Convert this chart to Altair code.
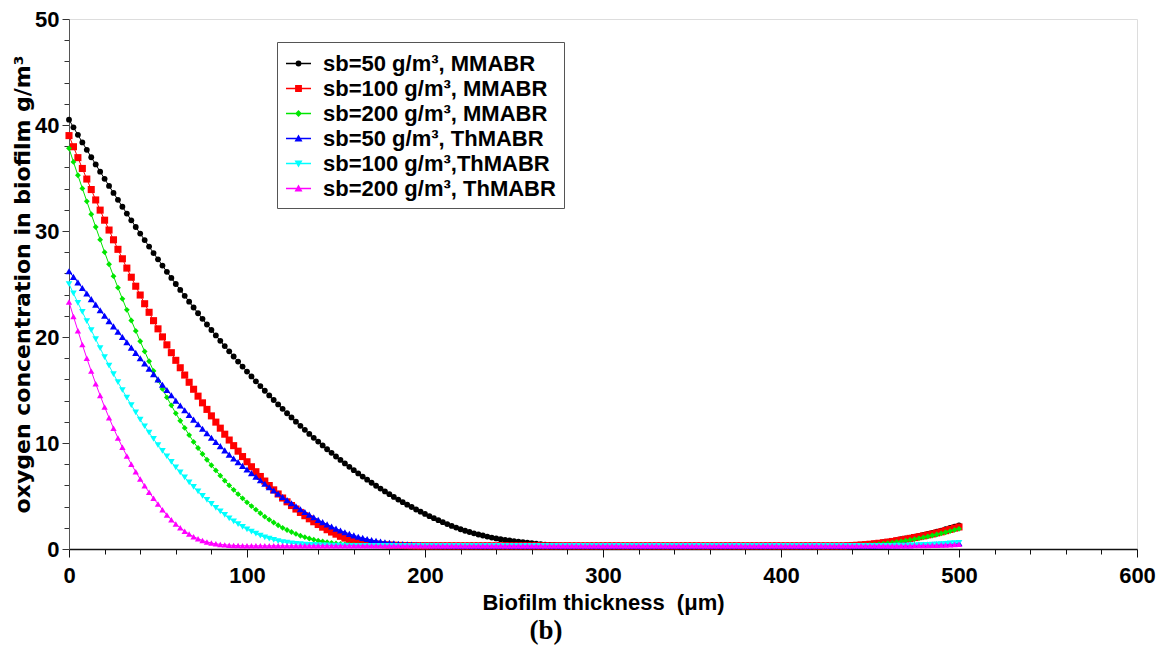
import altair as alt
import pandas as pd

# ---------------- data ----------------
series_names = [
    "sb=50 g/m³, MMABR",
    "sb=100 g/m³, MMABR",
    "sb=200 g/m³, MMABR",
    "sb=50 g/m³, ThMABR",
    "sb=100 g/m³,ThMABR",
    "sb=200 g/m³, ThMABR",
]
series_colors = ["#000000", "#ff0000", "#00e600", "#0000ff", "#00ffff", "#ff00ff"]
series_shapes = ["circle", "square", "diamond", "triangle-up", "triangle-down", "triangle-up"]
series_sizes = [34, 50, 34, 50, 44, 40]
# legend glyphs: a short line with the series marker in its middle (unit square -1..1)
legend_glyphs = [
    "M-1,0L1,0M-0.18,0A0.18,0.18 0 1,0 0.18,0A0.18,0.18 0 1,0 -0.18,0Z",
    "M-1,0L1,0M-0.22,-0.22L0.22,-0.22L0.22,0.22L-0.22,0.22Z",
    "M-1,0L1,0M0,-0.2L0.2,0L0,0.2L-0.2,0Z",
    "M-1,0L1,0M0,-0.22L0.23,0.18L-0.23,0.18Z",
    "M-1,0L1,0M0,0.22L0.23,-0.18L-0.23,-0.18Z",
    "M-1,0L1,0M0,-0.22L0.23,0.18L-0.23,0.18Z",
]

x_step = 2.5  # sampling step of the biofilm thickness (um)

x_ticks = [0, 20, 40, 60, 80, 100, 120, 140, 160, 180, 200, 220, 240, 260, 280, 300,
           320, 340, 360, 380, 400, 420, 440, 460, 480, 500, 520, 540, 560, 580, 600]
y_ticks = [0, 2, 4, 6, 8, 10, 12, 14, 16, 18, 20, 22, 24, 26, 28, 30, 32, 34, 36, 38,
           40, 42, 44, 46, 48, 50]

sb50_mm = [
    40.50, 39.78, 39.07, 38.36, 37.66, 36.96, 36.28, 35.60, 34.92, 34.25,
    33.59, 32.94, 32.29, 31.64, 31.01, 30.38, 29.76, 29.14, 28.53, 27.92,
    27.33, 26.74, 26.15, 25.57, 25.00, 24.44, 23.88, 23.33, 22.78, 22.24,
    21.71, 21.18, 20.66, 20.15, 19.64, 19.14, 18.65, 18.16, 17.68, 17.21,
    16.74, 16.28, 15.82, 15.37, 14.93, 14.49, 14.06, 13.64, 13.22, 12.81,
    12.41, 12.01, 11.62, 11.24, 10.86, 10.49, 10.13, 9.77, 9.41, 9.07,
    8.73, 8.40, 8.07, 7.75, 7.44, 7.13, 6.83, 6.54, 6.25, 5.97,
    5.70, 5.43, 5.17, 4.91, 4.66, 4.42, 4.18, 3.96, 3.73, 3.52,
    3.31, 3.10, 2.91, 2.72, 2.53, 2.35, 2.18, 2.02, 1.86, 1.72,
    1.60, 1.48, 1.37, 1.27, 1.17, 1.08, 1.00, 0.93, 0.86, 0.80,
    0.75, 0.70, 0.65, 0.60, 0.55, 0.50, 0.46, 0.42, 0.39, 0.36,
    0.34, 0.32, 0.31, 0.30, 0.30, 0.30, 0.30, 0.30, 0.30, 0.30,
    0.30, 0.30, 0.30, 0.30, 0.30, 0.30, 0.30, 0.30, 0.30, 0.30,
    0.30, 0.30, 0.30, 0.30, 0.30, 0.30, 0.30, 0.30, 0.30, 0.30,
    0.30, 0.30, 0.30, 0.30, 0.30, 0.30, 0.30, 0.30, 0.30, 0.30,
    0.30, 0.30, 0.30, 0.30, 0.30, 0.30, 0.30, 0.30, 0.30, 0.30,
    0.30, 0.30, 0.30, 0.30, 0.30, 0.30, 0.30, 0.30, 0.30, 0.30,
    0.30, 0.30, 0.30, 0.30, 0.30, 0.32, 0.34, 0.37, 0.40, 0.44,
    0.48, 0.53, 0.58, 0.64, 0.70, 0.77, 0.84, 0.92, 1.00, 1.08,
    1.16, 1.24, 1.32, 1.42, 1.52, 1.63, 1.74, 1.86, 1.98, 2.10,
    2.22,
]

sb100_mm = [
    39.00, 37.95, 36.92, 35.90, 34.90, 33.91, 32.93, 31.97, 31.02, 30.09,
    29.17, 28.27, 27.38, 26.50, 25.64, 24.79, 23.96, 23.14, 22.33, 21.54,
    20.77, 20.01, 19.26, 18.52, 17.80, 17.10, 16.41, 15.73, 15.07, 14.42,
    13.79, 13.17, 12.56, 11.97, 11.40, 10.83, 10.28, 9.75, 9.23, 8.72,
    8.23, 7.76, 7.29, 6.84, 6.41, 5.99, 5.58, 5.19, 4.81, 4.45,
    4.10, 3.77, 3.45, 3.14, 2.85, 2.57, 2.31, 2.06, 1.82, 1.60,
    1.40, 1.20, 1.03, 0.90, 0.80, 0.71, 0.63, 0.56, 0.50, 0.46,
    0.42, 0.39, 0.37, 0.35, 0.34, 0.33, 0.32, 0.31, 0.30, 0.30,
    0.30, 0.30, 0.30, 0.30, 0.30, 0.30, 0.30, 0.30, 0.30, 0.30,
    0.30, 0.30, 0.30, 0.30, 0.30, 0.30, 0.30, 0.30, 0.30, 0.30,
    0.30, 0.30, 0.30, 0.30, 0.30, 0.30, 0.30, 0.30, 0.30, 0.30,
    0.30, 0.30, 0.30, 0.30, 0.30, 0.30, 0.30, 0.30, 0.30, 0.30,
    0.30, 0.30, 0.30, 0.30, 0.30, 0.30, 0.30, 0.30, 0.30, 0.30,
    0.30, 0.30, 0.30, 0.30, 0.30, 0.30, 0.30, 0.30, 0.30, 0.30,
    0.30, 0.30, 0.30, 0.30, 0.30, 0.30, 0.30, 0.30, 0.30, 0.30,
    0.30, 0.30, 0.30, 0.30, 0.30, 0.30, 0.30, 0.30, 0.30, 0.30,
    0.30, 0.30, 0.30, 0.30, 0.30, 0.30, 0.30, 0.30, 0.30, 0.30,
    0.30, 0.30, 0.30, 0.30, 0.30, 0.31, 0.33, 0.35, 0.38, 0.41,
    0.45, 0.49, 0.54, 0.59, 0.65, 0.71, 0.78, 0.85, 0.92, 1.00,
    1.08, 1.16, 1.24, 1.33, 1.42, 1.52, 1.62, 1.73, 1.85, 1.97,
    2.08,
]

sb200_mm = [
    37.80, 36.52, 35.26, 34.02, 32.80, 31.58, 30.38, 29.18, 28.00, 26.86,
    25.74, 24.65, 23.60, 22.56, 21.56, 20.57, 19.60, 18.64, 17.71, 16.80,
    15.90, 15.10, 14.30, 13.55, 12.80, 12.10, 11.42, 10.75, 10.10, 9.53,
    8.96, 8.42, 7.90, 7.41, 6.92, 6.45, 6.00, 5.58, 5.17, 4.78,
    4.40, 4.05, 3.71, 3.37, 3.05, 2.77, 2.50, 2.24, 2.00, 1.79,
    1.60, 1.42, 1.25, 1.12, 0.99, 0.88, 0.78, 0.71, 0.64, 0.58,
    0.52, 0.48, 0.44, 0.41, 0.38, 0.36, 0.34, 0.33, 0.32, 0.31,
    0.31, 0.30, 0.30, 0.30, 0.30, 0.30, 0.30, 0.30, 0.30, 0.30,
    0.30, 0.30, 0.30, 0.30, 0.30, 0.30, 0.30, 0.30, 0.30, 0.30,
    0.30, 0.30, 0.30, 0.30, 0.30, 0.30, 0.30, 0.30, 0.30, 0.30,
    0.30, 0.30, 0.30, 0.30, 0.30, 0.30, 0.30, 0.30, 0.30, 0.30,
    0.30, 0.30, 0.30, 0.30, 0.30, 0.30, 0.30, 0.30, 0.30, 0.30,
    0.30, 0.30, 0.30, 0.30, 0.30, 0.30, 0.30, 0.30, 0.30, 0.30,
    0.30, 0.30, 0.30, 0.30, 0.30, 0.30, 0.30, 0.30, 0.30, 0.30,
    0.30, 0.30, 0.30, 0.30, 0.30, 0.30, 0.30, 0.30, 0.30, 0.30,
    0.30, 0.30, 0.30, 0.30, 0.30, 0.30, 0.30, 0.30, 0.30, 0.30,
    0.30, 0.30, 0.30, 0.30, 0.30, 0.30, 0.30, 0.30, 0.30, 0.30,
    0.30, 0.30, 0.30, 0.30, 0.30, 0.30, 0.31, 0.32, 0.34, 0.36,
    0.39, 0.42, 0.46, 0.50, 0.55, 0.60, 0.66, 0.72, 0.79, 0.86,
    0.93, 1.01, 1.09, 1.18, 1.27, 1.37, 1.47, 1.58, 1.69, 1.80,
    1.90,
]

sb50_th = [
    26.20, 25.67, 25.15, 24.62, 24.10, 23.57, 23.05, 22.52, 22.00, 21.50,
    21.00, 20.50, 20.00, 19.50, 19.00, 18.50, 18.00, 17.50, 17.00, 16.50,
    16.00, 15.50, 15.00, 14.50, 14.00, 13.54, 13.09, 12.64, 12.20, 11.77,
    11.35, 10.92, 10.50, 10.10, 9.70, 9.30, 8.90, 8.54, 8.19, 7.84,
    7.50, 7.16, 6.82, 6.48, 6.15, 5.83, 5.52, 5.21, 4.90, 4.61,
    4.32, 4.03, 3.75, 3.49, 3.24, 2.99, 2.75, 2.53, 2.32, 2.12,
    1.92, 1.75, 1.58, 1.43, 1.28, 1.16, 1.05, 0.94, 0.84, 0.77,
    0.70, 0.64, 0.58, 0.54, 0.50, 0.47, 0.44, 0.42, 0.40, 0.38,
    0.36, 0.35, 0.34, 0.33, 0.32, 0.31, 0.31, 0.30, 0.30, 0.30,
    0.30, 0.30, 0.30, 0.30, 0.30, 0.30, 0.30, 0.30, 0.30, 0.30,
    0.30, 0.30, 0.30, 0.30, 0.30, 0.30, 0.30, 0.30, 0.30, 0.30,
    0.30, 0.30, 0.30, 0.30, 0.30, 0.30, 0.30, 0.30, 0.30, 0.30,
    0.30, 0.30, 0.30, 0.30, 0.30, 0.30, 0.30, 0.30, 0.30, 0.30,
    0.30, 0.30, 0.30, 0.30, 0.30, 0.30, 0.30, 0.30, 0.30, 0.30,
    0.30, 0.30, 0.30, 0.30, 0.30, 0.30, 0.30, 0.30, 0.30, 0.30,
    0.30, 0.30, 0.30, 0.30, 0.30, 0.30, 0.30, 0.30, 0.30, 0.30,
    0.30, 0.30, 0.30, 0.30, 0.30, 0.30, 0.30, 0.30, 0.30, 0.30,
    0.30, 0.30, 0.30, 0.30, 0.30, 0.30, 0.30, 0.30, 0.30, 0.30,
    0.30, 0.30, 0.31, 0.31, 0.32, 0.33, 0.34, 0.35, 0.36, 0.37,
    0.38, 0.39, 0.40, 0.41, 0.42, 0.44, 0.46, 0.48, 0.50, 0.52,
    0.54,
]

sb100_th = [
    25.00, 24.11, 23.23, 22.36, 21.50, 20.64, 19.79, 18.94, 18.10, 17.30,
    16.50, 15.74, 15.00, 14.28, 13.57, 12.88, 12.20, 11.58, 10.97, 10.38,
    9.80, 9.26, 8.73, 8.21, 7.70, 7.22, 6.75, 6.29, 5.85, 5.43,
    5.02, 4.63, 4.25, 3.89, 3.54, 3.21, 2.90, 2.61, 2.34, 2.09,
    1.85, 1.63, 1.44, 1.26, 1.10, 0.97, 0.86, 0.75, 0.66, 0.60,
    0.54, 0.49, 0.45, 0.42, 0.40, 0.38, 0.36, 0.35, 0.34, 0.33,
    0.32, 0.31, 0.31, 0.30, 0.30, 0.30, 0.30, 0.30, 0.30, 0.30,
    0.30, 0.30, 0.30, 0.30, 0.30, 0.30, 0.30, 0.30, 0.30, 0.30,
    0.30, 0.30, 0.30, 0.30, 0.30, 0.30, 0.30, 0.30, 0.30, 0.30,
    0.30, 0.30, 0.30, 0.30, 0.30, 0.30, 0.30, 0.30, 0.30, 0.30,
    0.30, 0.30, 0.30, 0.30, 0.30, 0.30, 0.30, 0.30, 0.30, 0.30,
    0.30, 0.30, 0.30, 0.30, 0.30, 0.30, 0.30, 0.30, 0.30, 0.30,
    0.30, 0.30, 0.30, 0.30, 0.30, 0.30, 0.30, 0.30, 0.30, 0.30,
    0.30, 0.30, 0.30, 0.30, 0.30, 0.30, 0.30, 0.30, 0.30, 0.30,
    0.30, 0.30, 0.30, 0.30, 0.30, 0.30, 0.30, 0.30, 0.30, 0.30,
    0.30, 0.30, 0.30, 0.30, 0.30, 0.30, 0.30, 0.30, 0.30, 0.30,
    0.30, 0.30, 0.30, 0.30, 0.30, 0.30, 0.30, 0.30, 0.30, 0.30,
    0.30, 0.30, 0.30, 0.30, 0.30, 0.30, 0.30, 0.30, 0.30, 0.30,
    0.30, 0.30, 0.30, 0.30, 0.30, 0.30, 0.31, 0.32, 0.33, 0.34,
    0.35, 0.36, 0.38, 0.40, 0.42, 0.44, 0.46, 0.49, 0.52, 0.55,
    0.58,
]

sb200_th = [
    23.30, 21.93, 20.60, 19.28, 18.00, 16.78, 15.60, 14.48, 13.40, 12.38,
    11.40, 10.48, 9.60, 8.78, 8.00, 7.28, 6.60, 5.96, 5.35, 4.78,
    4.25, 3.71, 3.20, 2.76, 2.35, 2.00, 1.68, 1.41, 1.16, 0.97,
    0.80, 0.67, 0.56, 0.49, 0.43, 0.39, 0.36, 0.34, 0.32, 0.31,
    0.30, 0.30, 0.30, 0.30, 0.30, 0.30, 0.30, 0.30, 0.30, 0.30,
    0.30, 0.30, 0.30, 0.30, 0.30, 0.30, 0.30, 0.30, 0.30, 0.30,
    0.30, 0.30, 0.30, 0.30, 0.30, 0.30, 0.30, 0.30, 0.30, 0.30,
    0.30, 0.30, 0.30, 0.30, 0.30, 0.30, 0.30, 0.30, 0.30, 0.30,
    0.30, 0.30, 0.30, 0.30, 0.30, 0.30, 0.30, 0.30, 0.30, 0.30,
    0.30, 0.30, 0.30, 0.30, 0.30, 0.30, 0.30, 0.30, 0.30, 0.30,
    0.30, 0.30, 0.30, 0.30, 0.30, 0.30, 0.30, 0.30, 0.30, 0.30,
    0.30, 0.30, 0.30, 0.30, 0.30, 0.30, 0.30, 0.30, 0.30, 0.30,
    0.30, 0.30, 0.30, 0.30, 0.30, 0.30, 0.30, 0.30, 0.30, 0.30,
    0.30, 0.30, 0.30, 0.30, 0.30, 0.30, 0.30, 0.30, 0.30, 0.30,
    0.30, 0.30, 0.30, 0.30, 0.30, 0.30, 0.30, 0.30, 0.30, 0.30,
    0.30, 0.30, 0.30, 0.30, 0.30, 0.30, 0.30, 0.30, 0.30, 0.30,
    0.30, 0.30, 0.30, 0.30, 0.30, 0.30, 0.30, 0.30, 0.30, 0.30,
    0.30, 0.30, 0.30, 0.30, 0.30, 0.30, 0.30, 0.30, 0.30, 0.30,
    0.30, 0.30, 0.30, 0.30, 0.30, 0.30, 0.30, 0.30, 0.31, 0.31,
    0.32, 0.32, 0.33, 0.34, 0.35, 0.36, 0.37, 0.38, 0.40, 0.42,
    0.44,
]

all_series = [sb50_mm, sb100_mm, sb200_mm, sb50_th, sb100_th, sb200_th]

rows = []
for name, ys in zip(series_names, all_series):
    for i, v in enumerate(ys):
        rows.append({"x": i * x_step, "y": v, "series": name})
df = pd.DataFrame(rows)

# ---------------- chart ----------------
FONT = "Liberation Sans"
TITLE_FONT_Y = "DejaVu Sans"

x_enc = alt.X(
    "x:Q",
    scale=alt.Scale(domain=[0, 600], nice=False, zero=False),
    axis=alt.Axis(
        title="Biofilm thickness\u00a0 (\u03bcm)",
        values=x_ticks,
        labelExpr="datum.value % 100 === 0 ? datum.label : ''",
        labelFlush=False,
        labelOverlap=False,
        labelBound=False,
        tickSize={"condition": {"test": "datum.value % 100 === 0", "value": 8}, "value": 5},
        tickColor="#111111",
        domainColor="#111111",
        domainWidth=1.5,
        grid=False,
        labelFont=FONT,
        labelFontSize=22,
        labelFontWeight="bold",
        labelColor="black",
        labelPadding=8,
        titleFont=FONT,
        titleFontSize=22,
        titleFontWeight="bold",
        titleColor="black",
        titleBaseline="middle",
        titleY=53,
    ),
)
y_enc = alt.Y(
    "y:Q",
    scale=alt.Scale(domain=[0, 50], nice=False, zero=False),
    axis=alt.Axis(
        title="oxygen concentration in biofilm g/m³",
        values=y_ticks,
        labelExpr="datum.value % 10 === 0 ? datum.label : ''",
        labelOverlap=False,
        labelBound=False,
        labelFlush=False,
        tickSize={"condition": {"test": "datum.value % 10 === 0", "value": 7}, "value": 5},
        tickColor="#333333",
        domainColor="#555555",
        domainWidth=1,
        grid=False,
        labelFont=FONT,
        labelFontSize=22,
        labelFontWeight="bold",
        labelColor="black",
        labelPadding=3,
        titleFont=TITLE_FONT_Y,
        titleFontSize=22,
        titleFontWeight="bold",
        titleColor="black",
        titlePadding=0,
    ),
)

legend_cfg = alt.Legend(
    title=None,
    orient="none",
    legendX=208,
    legendY=23,
    symbolSize=625,
    symbolStrokeWidth=1.3,
    symbolOpacity=1,
    labelFont=FONT,
    labelFontSize=22,
    labelFontWeight="bold",
    labelColor="black",
    labelOffset=11,
    labelLimit=400,
    rowPadding=0,
    padding=8,
    fillColor="white",
    strokeColor="#555555",
)

layers = []
for name, col, shp, sz in zip(series_names, series_colors, series_shapes, series_sizes):
    layers.append(
        alt.Chart(df)
        .transform_filter(alt.datum.series == name)
        .mark_line(
            color=col,
            strokeWidth=1,
            point=alt.OverlayMarkDef(filled=True, shape=shp, size=sz, color=col,
                                     opacity=1, strokeWidth=0),
        )
        .encode(x=x_enc, y=y_enc)
    )

# legend-only layer (no marks drawn): line + marker glyph per series
legend_layer = (
    alt.Chart(df)
    .transform_filter("false")
    .mark_point(filled=True, opacity=1, strokeWidth=1.3)
    .encode(
        fill=alt.Fill("series:N", scale=alt.Scale(domain=series_names, range=series_colors),
                      legend=legend_cfg),
        stroke=alt.Stroke("series:N", scale=alt.Scale(domain=series_names, range=series_colors),
                          legend=legend_cfg),
        shape=alt.Shape("series:N", scale=alt.Scale(domain=series_names, range=legend_glyphs),
                        legend=legend_cfg),
    )
)

chart = (
    alt.layer(*layers, legend_layer)
    .properties(
        width=1068,
        height=530,
        autosize=alt.AutoSizeParams(type="none"),
        padding={"left": 61, "top": 11, "right": 20, "bottom": 97},
        title=alt.TitleParams(
            text="(b)",
            orient="bottom",
            anchor="middle",
            dx=-57,
            offset=5,
            font="Liberation Serif",
            fontSize=27,
            fontWeight="bold",
            color="black",
        ),
    )
    .configure_view(stroke=None)
    .configure(background="white")
)

chart.save("out.html", embed_options={"renderer": "svg", "actions": False})
